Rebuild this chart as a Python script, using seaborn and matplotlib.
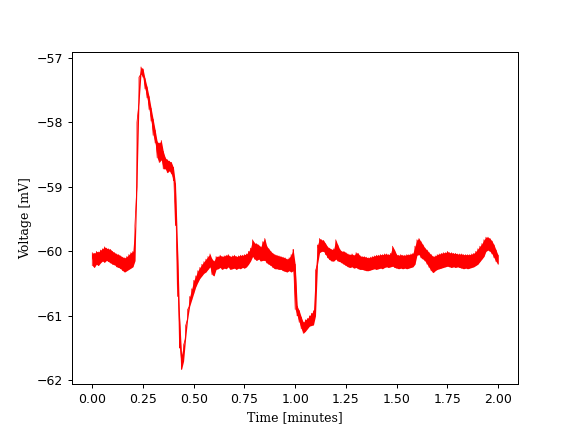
import matplotlib
matplotlib.use("Agg")
import matplotlib.pyplot as plt
import pandas as pd
import seaborn as sns

# time grid of the trace, in minutes
time_min = [
    0.00, 0.01, 0.02, 0.03, 0.04, 0.05, 0.06, 0.07, 0.08, 0.09,
    0.10, 0.11, 0.12, 0.13, 0.14, 0.15, 0.16, 0.17, 0.18, 0.19,
    0.20, 0.21, 0.22, 0.23, 0.24, 0.25, 0.26, 0.27, 0.28, 0.29,
    0.30, 0.31, 0.32, 0.33, 0.34, 0.35, 0.36, 0.37, 0.38, 0.39,
    0.40, 0.41, 0.42, 0.43, 0.44, 0.45, 0.46, 0.47, 0.48, 0.49,
    0.50, 0.51, 0.52, 0.53, 0.54, 0.55, 0.56, 0.57, 0.58, 0.59,
    0.60, 0.61, 0.62, 0.63, 0.64, 0.65, 0.66, 0.67, 0.68, 0.69,
    0.70, 0.71, 0.72, 0.73, 0.74, 0.75, 0.76, 0.77, 0.78, 0.79,
    0.80, 0.81, 0.82, 0.83, 0.84, 0.85, 0.86, 0.87, 0.88, 0.89,
    0.90, 0.91, 0.92, 0.93, 0.94, 0.95, 0.96, 0.97, 0.98, 0.99,
    1.00, 1.01, 1.02, 1.03, 1.04, 1.05, 1.06, 1.07, 1.08, 1.09,
    1.10, 1.11, 1.12, 1.13, 1.14, 1.15, 1.16, 1.17, 1.18, 1.19,
    1.20, 1.21, 1.22, 1.23, 1.24, 1.25, 1.26, 1.27, 1.28, 1.29,
    1.30, 1.31, 1.32, 1.33, 1.34, 1.35, 1.36, 1.37, 1.38, 1.39,
    1.40, 1.41, 1.42, 1.43, 1.44, 1.45, 1.46, 1.47, 1.48, 1.49,
    1.50, 1.51, 1.52, 1.53, 1.54, 1.55, 1.56, 1.57, 1.58, 1.59,
    1.60, 1.61, 1.62, 1.63, 1.64, 1.65, 1.66, 1.67, 1.68, 1.69,
    1.70, 1.71, 1.72, 1.73, 1.74, 1.75, 1.76, 1.77, 1.78, 1.79,
    1.80, 1.81, 1.82, 1.83, 1.84, 1.85, 1.86, 1.87, 1.88, 1.89,
    1.90, 1.91, 1.92, 1.93, 1.94, 1.95, 1.96, 1.97, 1.98, 1.99,
    2.00,
]

# lower edge of the noisy trace (mV)
volt_low = [
    -60.22, -60.25, -60.20, -60.22, -60.18, -60.15, -60.17, -60.14, -60.16, -60.18,
    -60.20, -60.21, -60.24, -60.25, -60.27, -60.30, -60.32, -60.30, -60.28, -60.26,
    -60.24, -60.15, -59.00, -57.70, -57.25, -57.30, -57.48, -57.62, -57.80, -57.98,
    -58.20, -58.32, -58.55, -58.62, -58.58, -58.72, -58.72, -58.78, -58.75, -58.80,
    -58.90, -59.60, -60.70, -61.50, -61.83, -61.70, -61.35, -61.05, -60.85, -60.75,
    -60.65, -60.55, -60.48, -60.42, -60.38, -60.34, -60.32, -60.28, -60.24, -60.36,
    -60.38, -60.28, -60.27, -60.25, -60.28, -60.26, -60.27, -60.24, -60.28, -60.27,
    -60.26, -60.28, -60.26, -60.27, -60.25, -60.26, -60.24, -60.20, -60.15, -60.08,
    -60.12, -60.14, -60.12, -60.15, -60.14, -60.14, -60.18, -60.20, -60.22, -60.25,
    -60.27, -60.27, -60.28, -60.28, -60.30, -60.31, -60.32, -60.30, -60.32, -60.30,
    -60.90, -61.00, -61.10, -61.20, -61.27, -61.24, -61.20, -61.16, -61.15, -61.14,
    -61.00, -60.20, -60.02, -60.00, -60.00, -60.05, -60.10, -60.13, -60.15, -60.15,
    -60.12, -60.15, -60.16, -60.18, -60.20, -60.22, -60.24, -60.25, -60.24, -60.26,
    -60.25, -60.27, -60.28, -60.28, -60.29, -60.30, -60.30, -60.29, -60.28, -60.27,
    -60.28, -60.27, -60.26, -60.27, -60.25, -60.24, -60.25, -60.24, -60.23, -60.25,
    -60.26, -60.27, -60.26, -60.27, -60.26, -60.27, -60.26, -60.25, -60.24, -60.20,
    -60.06, -60.05, -60.10, -60.12, -60.15, -60.20, -60.25, -60.30, -60.33, -60.30,
    -60.28, -60.27, -60.26, -60.25, -60.24, -60.23, -60.24, -60.25, -60.24, -60.25,
    -60.24, -60.25, -60.26, -60.27, -60.26, -60.27, -60.26, -60.25, -60.24, -60.22,
    -60.20, -60.16, -60.12, -60.08, -60.00, -59.98, -60.00, -60.04, -60.10, -60.16,
    -60.20,
]

# upper edge of the noisy trace (mV)
volt_high = [
    -60.02, -60.03, -60.00, -60.01, -59.98, -59.96, -59.93, -59.95, -59.96, -59.97,
    -60.00, -60.02, -60.04, -60.05, -60.07, -60.09, -60.10, -60.08, -60.05, -60.02,
    -60.00, -59.60, -58.00, -57.30, -57.14, -57.17, -57.32, -57.45, -57.60, -57.78,
    -57.95, -58.12, -58.30, -58.32, -58.28, -58.45, -58.55, -58.58, -58.60, -58.62,
    -58.70, -58.95, -59.90, -61.00, -61.60, -61.45, -61.15, -60.90, -60.70, -60.58,
    -60.45, -60.38, -60.30, -60.25, -60.20, -60.16, -60.12, -60.08, -60.04, -60.12,
    -60.15, -60.08, -60.08, -60.06, -60.08, -60.07, -60.06, -60.05, -60.08, -60.07,
    -60.06, -60.08, -60.07, -60.06, -60.06, -60.05, -60.04, -60.00, -59.95, -59.82,
    -59.87, -59.88, -59.90, -59.93, -59.85, -59.80, -59.92, -59.96, -60.00, -60.03,
    -60.05, -60.06, -60.07, -60.08, -60.09, -60.10, -60.12, -60.10, -60.05, -59.97,
    -60.20, -60.85, -60.92, -61.02, -61.10, -61.06, -61.04, -61.00, -60.96, -60.92,
    -60.30, -59.90, -59.80, -59.82, -59.83, -59.88, -59.93, -59.95, -59.97, -59.96,
    -59.82, -59.90, -59.97, -60.00, -60.00, -60.02, -60.04, -60.05, -60.04, -60.06,
    -60.02, -60.03, -60.07, -60.08, -60.08, -60.09, -60.10, -60.09, -60.08, -60.07,
    -60.06, -60.06, -60.05, -60.05, -60.04, -60.04, -60.05, -60.03, -59.92, -59.98,
    -60.05, -60.06, -60.05, -60.06, -60.06, -60.05, -60.05, -60.04, -60.03, -59.92,
    -59.82, -59.80, -59.85, -59.90, -59.95, -59.98, -60.02, -60.05, -60.08, -60.07,
    -60.05, -60.04, -60.03, -60.02, -60.02, -60.00, -60.02, -60.02, -60.03, -60.03,
    -60.04, -60.04, -60.04, -60.05, -60.05, -60.05, -60.05, -60.04, -60.03, -60.00,
    -59.96, -59.92, -59.88, -59.82, -59.78, -59.78, -59.80, -59.84, -59.90, -59.98,
    -60.06,
]

# interleave the two edges so the line zigzags through the noise band
rows = []
for t, lo, hi in zip(time_min, volt_low, volt_high):
    rows.append((t, lo))
    rows.append((t, hi))
trace = pd.DataFrame(rows, columns=["time", "voltage"])

fig, ax = plt.subplots(figsize=(6.4, 4.8), dpi=90)
ax.fill_between(time_min, volt_low, volt_high, color="red", linewidth=0)
sns.lineplot(data=trace, x="time", y="voltage", sort=False, estimator=None,
             color="red", linewidth=0.6, ax=ax)

ax.set_xlabel("Time [minutes]", family="DejaVu Serif")
ax.set_ylabel("Voltage [mV]", family="DejaVu Serif")

fig.savefig("out.png", dpi=90)
